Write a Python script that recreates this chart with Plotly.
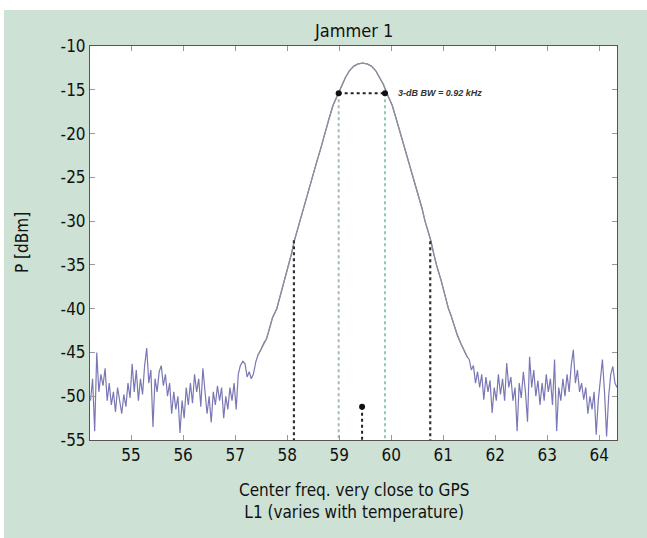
import numpy as np
import plotly.graph_objects as go

# ---------------- data ----------------
NOISE_LEFT_START = 54.22
NOISE_RIGHT_START = 61.50
NOISE_STEP = 0.04
NOISE_LEFT_P = [-50.5, -48.0, -54.0, -45.0, -49.5, -47.5, -48.8, -46.8, -50.5, -48.5,
                -51.0, -49.5, -51.8, -49.0, -50.5, -52.0, -49.8, -51.2, -48.5, -50.2,
                -46.3, -49.5, -47.0, -50.5, -48.0, -49.8, -46.5, -44.5, -48.5, -47.0,
                -53.5, -48.0, -49.5, -47.2, -46.5, -48.8, -47.5, -50.0, -48.5, -52.0,
                -49.5, -51.5, -50.0, -54.2, -50.5, -52.5, -49.0, -51.0, -48.5, -50.8,
                -47.5, -49.5, -48.0, -51.2, -46.8, -49.5, -52.0, -50.0, -53.0, -49.5,
                -51.0, -48.8, -50.5, -49.0, -52.5, -50.0, -51.5, -49.0, -50.5, -48.5,
                -51.5, -47.5]
LOBE_F = [57.10, 57.15, 57.19, 57.23, 57.27, 57.31, 57.35, 57.40, 57.44, 57.50,
          57.56, 57.60, 57.66, 57.72, 57.80, 57.87, 57.94, 58.03, 58.08, 58.14,
          58.20, 58.25, 58.31, 58.38, 58.48, 58.56, 58.64, 58.72, 58.80, 58.88,
          58.99, 59.05, 59.12, 59.20, 59.28, 59.36, 59.45, 59.54, 59.62, 59.70,
          59.78, 59.85, 59.91, 60.02, 60.10, 60.18, 60.26, 60.34, 60.42, 60.52,
          60.59, 60.65, 60.70, 60.76, 60.82, 60.87, 60.96, 61.03, 61.10, 61.14,
          61.20, 61.27, 61.34, 61.40, 61.46]
LOBE_P = [-46.5, -46.0, -46.3, -47.8, -47.2, -48.0, -47.5, -46.0, -45.3, -44.6,
          -43.8, -43.5, -42.3, -41.0, -40.0, -38.5, -36.8, -35.0, -33.8, -32.2,
          -30.9, -30.0, -28.5, -27.0, -25.0, -23.4, -21.8, -20.0, -18.4, -16.8,
          -15.3, -14.4, -13.6, -12.8, -12.3, -12.05, -11.95, -12.05, -12.3, -12.8,
          -13.6, -14.4, -15.3, -16.8, -18.4, -20.0, -21.8, -23.4, -25.0, -27.0,
          -28.5, -30.0, -30.9, -32.2, -33.8, -35.0, -36.8, -38.5, -40.0, -40.6,
          -41.8, -43.0, -44.0, -44.8, -45.5]
NOISE_RIGHT_P = [-45.8, -47.0, -46.5, -48.5, -47.2, -49.0, -47.5, -50.4, -47.8, -49.5,
                 -48.2, -51.9, -49.0, -50.5, -47.5, -49.8, -48.0, -50.5, -46.2, -49.0,
                 -47.8, -50.5, -49.0, -54.0, -48.5, -50.2, -47.2, -49.5, -52.9, -45.5,
                 -49.0, -47.0, -50.0, -48.2, -51.0, -48.5, -50.5, -47.5, -49.5, -48.0,
                 -51.0, -45.8, -54.0, -49.0, -50.5, -48.0, -50.0, -47.5, -49.5, -46.5,
                 -44.7, -48.5, -47.0, -49.5, -48.5, -50.4, -49.0, -52.0, -50.0, -51.5,
                 -49.5, -54.4, -50.5, -48.0, -45.8, -49.5, -54.6, -50.0, -47.5, -46.6,
                 -48.5, -49.0]

SIDE_MARK_F = [58.13, 60.75]
SIDE_MARK_P = [-32.2, -32.3]
BW_F = [58.99, 59.88]
BW_P = -15.4
CENTER_F = 59.44
CENTER_P = -51.2
BW_LABEL = "3-dB BW = 0.92 kHz"

X_TICKS = [55, 56, 57, 58, 59, 60, 61, 62, 63, 64]
Y_TICKS = [-10, -15, -20, -25, -30, -35, -40, -45, -50, -55]
X_RANGE = [54.21, 64.34]
Y_RANGE = [-55, -10]

TITLE = "Jammer 1"
Y_TITLE = "P [dBm]"
X_TITLE = "Center freq. very close to GPS<br>L1 (varies with temperature)"

# ---------------- figure ----------------
FONT = "Liberation Sans Narrow, DejaVu Sans Condensed, Arial Narrow, Roboto, sans-serif"
GREEN = "#cde2d4"

f_left = np.round(NOISE_LEFT_START + NOISE_STEP * np.arange(len(NOISE_LEFT_P)), 3)
f_right = np.round(NOISE_RIGHT_START + NOISE_STEP * np.arange(len(NOISE_RIGHT_P)), 3)
all_f = np.concatenate([f_left, LOBE_F, f_right])
all_p = np.concatenate([NOISE_LEFT_P, LOBE_P, NOISE_RIGHT_P])

fig = go.Figure()
fig.add_trace(go.Scatter(x=all_f, y=all_p, mode="lines",
                         line=dict(color="#7a78b4", width=1.2), hoverinfo="skip"))
lobe_idx = [i for i, f in enumerate(LOBE_F) if f >= 57.44]
fig.add_trace(go.Scatter(x=[LOBE_F[i] for i in lobe_idx], y=[LOBE_P[i] for i in lobe_idx],
                         mode="lines", line=dict(color="#8f8f98", width=1.3), hoverinfo="skip"))

floor = Y_RANGE[0]
# side black dotted markers
for f, p in zip(SIDE_MARK_F, SIDE_MARK_P):
    fig.add_trace(go.Scatter(x=[f, f], y=[p, floor], mode="lines",
                             line=dict(color="#333333", width=2.2, dash="dot")))
# 3-dB bandwidth vertical lines
bw_colors = ["#a9bcb4", "#8ccab4"]
for f, c in zip(BW_F, bw_colors):
    fig.add_trace(go.Scatter(x=[f, f], y=[BW_P, floor], mode="lines",
                             line=dict(color=c, width=2, dash="dot")))
# center stem
fig.add_trace(go.Scatter(x=[CENTER_F, CENTER_F], y=[CENTER_P, floor], mode="lines",
                         line=dict(color="#222222", width=2, dash="dot")))
fig.add_trace(go.Scatter(x=[CENTER_F], y=[CENTER_P], mode="markers",
                         marker=dict(color="#111111", size=6)))
# bandwidth horizontal
fig.add_trace(go.Scatter(x=BW_F, y=[BW_P, BW_P], mode="lines+markers",
                         line=dict(color="#222222", width=2, dash="dot"),
                         marker=dict(color="#111111", size=6)))

fig.add_annotation(x=BW_F[1] + 0.22, y=BW_P, xref="x", yref="y", text="<b><i>" + BW_LABEL + "</i></b>",
                   showarrow=False, xanchor="left", yanchor="middle",
                   font=dict(family="Liberation Sans, Arial, sans-serif", size=9, color="#333333"))

# white strips at top and left of the green panel
fig.add_shape(type="rect", xref="paper", yref="paper", x0=-0.2, x1=1.2,
              y0=(440 - 10) / 394, y1=1.2, fillcolor="white", line=dict(width=0), layer="below")
fig.add_shape(type="rect", xref="paper", yref="paper", x0=-0.2, x1=(4 - 90) / 527,
              y0=-0.3, y1=1.2, fillcolor="white", line=dict(width=0), layer="below")

fig.add_annotation(x=0.5, y=(440 - 30) / 394, xref="paper", yref="paper", text=TITLE,
                   showarrow=False, xanchor="center", yanchor="middle",
                   font=dict(family=FONT, size=18, color="#111111"))
fig.add_annotation(x=(22 - 90) / 527, y=0.5, xref="paper", yref="paper", text=Y_TITLE,
                   showarrow=False, xanchor="center", yanchor="middle", textangle=-90,
                   font=dict(family=FONT, size=17, color="#111111"))
fig.add_annotation(x=0.5, y=(440 - 501) / 394, xref="paper", yref="paper", text=X_TITLE,
                   showarrow=False, xanchor="center", yanchor="middle",
                   font=dict(family=FONT, size=17, color="#111111"))

fig.update_xaxes(range=X_RANGE, tickvals=X_TICKS, ticktext=[str(t) for t in X_TICKS],
                 ticks="inside", ticklen=5, tickcolor="#999999", showgrid=False, zeroline=False,
                 showline=True, linecolor="#555555", linewidth=1, mirror="ticks",
                 tickfont=dict(family=FONT, size=17, color="#111111"))
fig.update_yaxes(range=Y_RANGE, tickvals=Y_TICKS, ticktext=[str(t) for t in Y_TICKS],
                 ticks="inside", ticklen=5, tickcolor="#999999", showgrid=False, zeroline=False,
                 showline=True, linecolor="#555555", linewidth=1, mirror="ticks",
                 tickfont=dict(family=FONT, size=17, color="#111111"))

fig.update_layout(width=647, height=538, margin=dict(l=90, r=30, t=46, b=98),
                  paper_bgcolor=GREEN, plot_bgcolor="white", showlegend=False)

fig.write_html("out.html", config={"displayModeBar": False},
               post_script=("document.body.style.margin='0px';"
                            "document.body.style.overflow='hidden';"
                            "document.body.style.background='" + GREEN + "';"
                            "document.documentElement.style.background='" + GREEN + "';"))
